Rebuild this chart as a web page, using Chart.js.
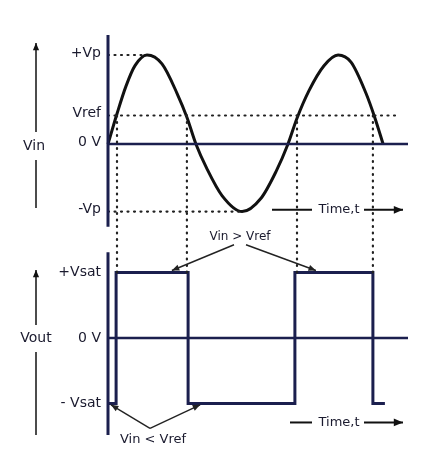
<!DOCTYPE html>
<html>
<head>
<meta charset="utf-8">
<script src="https://cdn.jsdelivr.net/npm/chart.js@4"></script>
<style>
  html, body { margin: 0; padding: 0; background: #fff; }
  #wrap { width: 441px; height: 464px; }
</style>
</head>
<body>
<div id="wrap"><canvas id="c" width="441" height="464"></canvas></div>
<script>
// input sine (time units, Vin / Vp)
const sineT = [0, 3, 6, 9, 13, 18, 23, 26.3, 29.3, 33, 38, 44.7, 51, 56, 60, 63, 67, 72, 76.7, 81, 86, 89, 91.7];
const sineV = [0, 0.34, 0.65, 0.88, 1, 0.9, 0.57, 0.3, 0, -0.28, -0.58, -0.76, -0.61, -0.31, 0, 0.29, 0.6, 0.88, 1, 0.92, 0.57, 0.29, 0];
// comparator output (Vout / Vsat)
const outT = [0, 2.7, 2.7, 26.7, 26.7, 62.3, 62.3, 88.3, 88.3, 92.3];
const outV = [-1, -1, 1, 1, -1, -1, 1, 1, -1, -1];
const vref = 0.32;
const crossT = [3, 26.3, 63, 88.3];
const inTicks = [['+Vp', 1], ['Vref', vref], ['0 V', 0], ['-Vp', -0.76]];
const outTicks = [['+Vsat', 1], ['0 V', 0], ['- Vsat', -1]];

const NAVY = '#1b1f4e';
const FONT = '"DejaVu Sans", Verdana, sans-serif';

const pts = (xs, ys) => xs.map((x, i) => ({ x: x, y: ys[i] }));
const dotted = { borderColor: '#222', borderWidth: 2.2, borderDash: [1, 5.5], borderCapStyle: 'round', pointRadius: 0, yAxisID: 'yin' };

function arrow(ctx, x1, y1, x2, y2, head, w) {
  ctx.lineWidth = w;
  ctx.beginPath(); ctx.moveTo(x1, y1); ctx.lineTo(x2, y2); ctx.stroke();
  const a = Math.atan2(y2 - y1, x2 - x1);
  ctx.beginPath();
  ctx.moveTo(x2, y2);
  ctx.lineTo(x2 - head * Math.cos(a - 0.4), y2 - head * Math.sin(a - 0.4));
  ctx.lineTo(x2 - head * Math.cos(a + 0.4), y2 - head * Math.sin(a + 0.4));
  ctx.closePath(); ctx.fill();
}

const decor = {
  id: 'decor',
  afterDatasetsDraw(chart) {
    const ctx = chart.ctx, x = chart.scales.x, yi = chart.scales.yin, yo = chart.scales.yout;
    ctx.save();
    ctx.strokeStyle = NAVY; ctx.fillStyle = NAVY; ctx.lineCap = 'butt';
    // vertical axes
    ctx.lineWidth = 3;
    ctx.beginPath();
    ctx.moveTo(x.getPixelForValue(0), yi.getPixelForValue(1.225));
    ctx.lineTo(x.getPixelForValue(0), yi.getPixelForValue(-0.93));
    ctx.moveTo(x.getPixelForValue(0), yo.getPixelForValue(1.31));
    ctx.lineTo(x.getPixelForValue(0), yo.getPixelForValue(-1.48));
    ctx.stroke();
    // dotted projections from input crossings to output
    ctx.strokeStyle = '#222'; ctx.lineWidth = 2.2; ctx.setLineDash([1, 5.5]); ctx.lineCap = 'round';
    crossT.forEach(t => {
      ctx.beginPath();
      ctx.moveTo(x.getPixelForValue(t), yi.getPixelForValue(vref));
      ctx.lineTo(x.getPixelForValue(t), yo.getPixelForValue(1));
      ctx.stroke();
    });
    ctx.setLineDash([]); ctx.lineCap = 'butt';
    // tick labels
    ctx.fillStyle = '#1a1a2e';
    ctx.font = '14px ' + FONT; ctx.textAlign = 'right'; ctx.textBaseline = 'middle';
    inTicks.forEach(([s, v]) => ctx.fillText(s, 101, yi.getPixelForValue(v) - 2));
    outTicks.forEach(([s, v]) => ctx.fillText(s, 101, yo.getPixelForValue(v)));
    // side titles with arrows
    ctx.textAlign = 'center'; ctx.font = '14px ' + FONT;
    ctx.fillText('Vin', 34, 146);
    ctx.fillText('Vout', 36, 338);
    ctx.strokeStyle = '#111'; ctx.fillStyle = '#111';
    ctx.lineWidth = 1.5;
    ctx.beginPath(); ctx.moveTo(36, 208); ctx.lineTo(36, 160); ctx.stroke();
    ctx.beginPath(); ctx.moveTo(36, 435); ctx.lineTo(36, 352); ctx.stroke();
    arrow(ctx, 36, 132, 36, 43, 8, 1.5);
    arrow(ctx, 36, 325, 36, 270, 8, 1.5);
    // Vin > Vref annotations
    ctx.fillStyle = '#1a1a2e'; ctx.font = '12px ' + FONT;
    const lx = x.getPixelForValue(44), ly = yo.getPixelForValue(1.5);
    ctx.fillText('Vin > Vref', lx, ly - 3);
    ctx.strokeStyle = '#222'; ctx.fillStyle = '#222';
    arrow(ctx, lx - 6, ly + 5, x.getPixelForValue(21.3), yo.getPixelForValue(1) - 2, 8, 1.4);
    arrow(ctx, lx + 6, ly + 5, x.getPixelForValue(69.3), yo.getPixelForValue(1) - 2, 8, 1.4);
    // Vin < Vref
    const bx = x.getPixelForValue(14), by = yo.getPixelForValue(-1.38);
    arrow(ctx, bx, by, x.getPixelForValue(1), yo.getPixelForValue(-1.02), 8, 1.4);
    arrow(ctx, bx, by, x.getPixelForValue(30.7), yo.getPixelForValue(-1.02), 8, 1.4);
    ctx.fillStyle = '#1a1a2e'; ctx.font = '13px ' + FONT;
    ctx.fillText('Vin < Vref', bx + 3, by + 11);
    // time labels
    [yi.getPixelForValue(-0.74), yo.getPixelForValue(-1.29)].forEach((yy, k) => {
      ctx.strokeStyle = '#111'; ctx.fillStyle = '#111'; ctx.lineWidth = 2;
      ctx.beginPath(); ctx.moveTo(k ? 290 : 272, yy); ctx.lineTo(312, yy); ctx.stroke();
      arrow(ctx, 364, yy, 403, yy, 10, 2);
      ctx.fillStyle = '#1a1a2e'; ctx.font = '13px ' + FONT;
      ctx.fillText('Time,t', 339, yy);
    });
    ctx.restore();
  }
};

new Chart(document.getElementById('c'), {
  type: 'line',
  data: {
    datasets: [
      { data: [{ x: 0, y: 0 }, { x: 100, y: 0 }], borderColor: NAVY, borderWidth: 2.5, pointRadius: 0, yAxisID: 'yin' },
      { data: [{ x: 0, y: 1 }, { x: 13, y: 1 }], ...dotted },
      { data: [{ x: 0, y: vref }, { x: 96.3, y: vref }], ...dotted },
      { data: [{ x: 0, y: -0.76 }, { x: 44.7, y: -0.76 }], ...dotted },
      { data: pts(sineT, sineV), borderColor: '#111', borderWidth: 3, pointRadius: 0, cubicInterpolationMode: 'monotone', yAxisID: 'yin' },
      { data: [{ x: 0, y: 0 }, { x: 100, y: 0 }], borderColor: NAVY, borderWidth: 2.5, pointRadius: 0, yAxisID: 'yout' },
      { data: pts(outT, outV), borderColor: NAVY, borderWidth: 3, pointRadius: 0, tension: 0, yAxisID: 'yout' }
    ]
  },
  options: {
    responsive: false, animation: false,
    layout: { padding: 0 },
    plugins: { legend: { display: false }, tooltip: { enabled: false } },
    scales: {
      x: { type: 'linear', min: -36, max: 111, display: false },
      yin: { type: 'linear', min: -3.596, max: 1.618, display: false },
      yout: { type: 'linear', min: -1.924, max: 5.16, display: false }
    }
  },
  plugins: [decor]
});
</script>
</body>
</html>
